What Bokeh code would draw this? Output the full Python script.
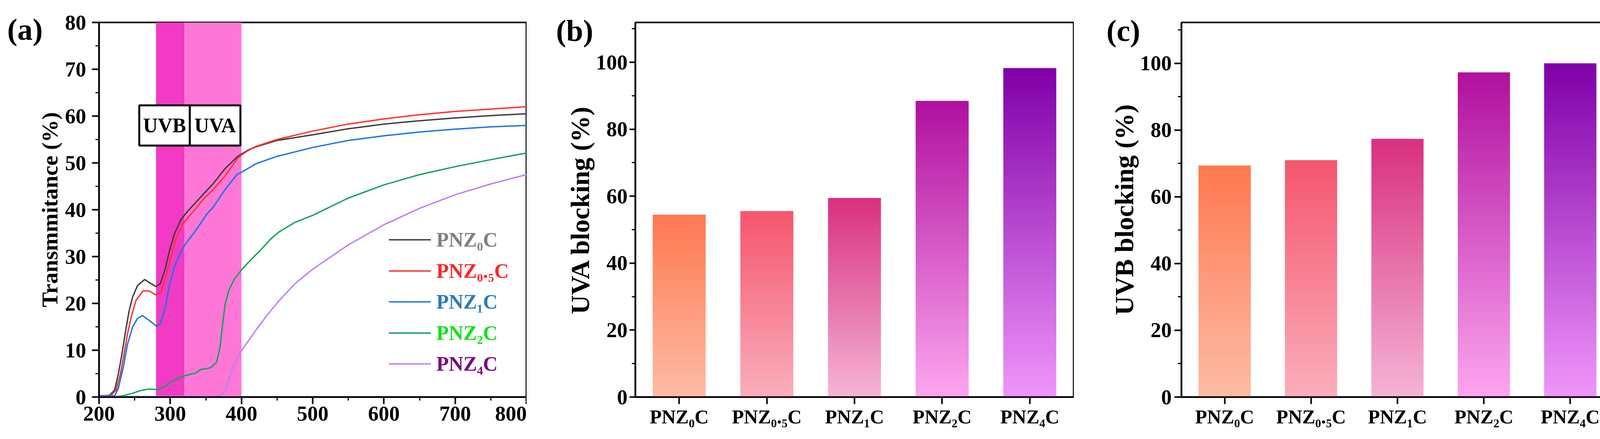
from bokeh.plotting import figure
from bokeh.models import (Range1d, FactorRange, SingleIntervalTicker, Legend,
                          LegendItem, Label, ColumnDataSource)
from bokeh.layouts import row
from bokeh.embed import file_html
from bokeh.resources import INLINE
from bokeh.core.properties import value

FONT = "Liberation Serif"

# ---------------- panel (a): transmittance spectra ----------------
wl_0 = [200, 210, 215, 222, 227, 232, 237, 242, 247, 254, 264, 271, 280, 286, 293, 299, 306, 315,
        325, 335, 345, 360, 377, 394, 400, 410, 420, 450, 500, 550, 600, 650, 700, 750, 800]
t_0 = [0.3, 0.3, 0.4, 1.5, 4.9, 9.0, 13.8, 18.2, 21.3, 23.8, 25.1, 24.4, 23.6, 24.2, 27.4, 31.3, 34.9, 37.9,
       39.8, 41.4, 43.1, 45.5, 48.8, 51.3, 51.9, 52.8, 53.4, 54.8, 56.0, 57.3, 58.3, 59.0, 59.6, 60.1, 60.5]

wl_05 = [200, 210, 217, 224, 230, 235, 240, 246, 252, 262, 271, 280, 287, 294, 301, 308, 318, 335,
         345, 360, 377, 394, 400, 410, 420, 450, 500, 550, 600, 650, 700, 750, 800]
t_05 = [0.3, 0.3, 0.4, 1.5, 4.9, 9.0, 13.5, 17.6, 20.7, 22.7, 22.6, 21.8, 22.5, 26.0, 29.9, 33.8, 37.1, 40.1,
        42.0, 44.3, 47.2, 50.9, 51.7, 52.7, 53.5, 55.0, 56.8, 58.3, 59.4, 60.3, 61.0, 61.5, 62.0]

wl_1 = [200, 215, 222, 227, 234, 240, 247, 254, 261, 271, 281, 286, 293, 299, 306, 315, 321, 335,
        352, 360, 377, 394, 400, 420, 450, 500, 550, 600, 650, 700, 750, 800]
t_1 = [0.3, 0.3, 0.3, 1.8, 6.3, 11.3, 14.9, 16.8, 17.4, 16.3, 15.1, 15.7, 19.0, 24.0, 27.9, 31.0, 32.6, 35.4,
       39.2, 40.5, 44.3, 47.6, 48.0, 49.8, 51.4, 53.3, 54.8, 55.8, 56.6, 57.2, 57.7, 58.0]

wl_2 = [200, 225, 234, 247, 259, 269, 281, 291, 301, 311, 321, 335, 343, 352, 357, 365, 370, 373,
        377, 382, 390, 402, 415, 427, 440, 453, 475, 500, 550, 600, 650, 700, 750, 800]
t_2 = [0.1, 0.1, 0.3, 0.8, 1.4, 1.7, 1.6, 2.1, 3.2, 4.0, 4.6, 5.1, 5.9, 6.1, 6.3, 7.4, 10.7, 14.9,
       19.8, 22.7, 25.2, 27.5, 29.6, 31.4, 33.6, 35.3, 37.3, 38.8, 42.5, 45.3, 47.5, 49.2, 50.7, 52.1]

wl_4 = [200, 300, 365, 370, 377, 385, 392, 400, 419, 435, 453, 475, 500, 550, 600, 650, 700, 750, 800]
t_4 = [0.1, 0.1, 0.1, 0.3, 1.1, 5.2, 7.8, 9.9, 14.0, 17.3, 20.6, 24.2, 27.3, 32.5, 36.8, 40.3, 43.2, 45.5, 47.5]

series_names = ["PNZ₀C", "PNZ₀.₅C", "PNZ₁C", "PNZ₂C", "PNZ₄C"]
line_colors = ["#3c3c3c", "#ff3030", "#1a74e6", "#14a05e", "#c07ef0"]
text_colors = ["#808080", "#ff2626", "#2a7cbc", "#16e016", "#7a0a82"]

uv_band_left = [280, 320]
uv_band_right = [320, 400]
uv_band_colors = ["#f23ac4", "#ff77d6"]
uv_box_labels = ["UVB", "UVA"]
uv_box_left = [256.5, 327.5]
uv_box_right = [327.5, 398.5]
uv_box_bottom = 53.7
uv_box_top = 62.3

# ---------------- panels (b) and (c): blocking bars ----------------
samples = ["PNZ₀C", "PNZ₀.₅C", "PNZ₁C", "PNZ₂C", "PNZ₄C"]
uva_blocking = [54.4, 55.5, 59.4, 88.4, 98.2]
uvb_blocking = [69.3, 70.9, 77.3, 97.2, 99.9]
bar_top_colors = ["#ff7850", "#f5566e", "#d9307f", "#b0109e", "#8000a8"]
bar_bottom_colors = ["#fdbca6", "#faaebb", "#f5b4d6", "#fda6f0", "#f096fa"]

# shared vertical layout (plots in a row get aligned frames)
FRAME_H = 960
TOP_B = 57
BOTTOM_B = 92


def style_axes(p, ylabel_size, y_tick_out, y_standoff, ylabel_standoff):
    for ax in (p.xaxis[0], p.yaxis[0]):
        ax.axis_line_width = 4
        ax.axis_line_color = "black"
        ax.major_tick_line_width = 4
        ax.minor_tick_line_width = 3
        ax.major_tick_in = 0
        ax.minor_tick_in = 0
        ax.minor_tick_out = 9
        ax.major_label_text_font = FONT
        ax.major_label_text_font_style = "bold"
        ax.major_label_text_color = "black"
        ax.axis_label_text_font = FONT
        ax.axis_label_text_font_style = "bold"
        ax.axis_label_text_color = "black"
    p.yaxis[0].major_tick_out = y_tick_out
    p.yaxis[0].major_label_text_font_size = "54px"
    p.yaxis[0].major_label_standoff = y_standoff
    p.yaxis[0].axis_label_text_font_size = ylabel_size
    p.yaxis[0].axis_label_standoff = ylabel_standoff
    p.xaxis[0].major_tick_out = 18
    p.outline_line_color = "black"
    p.outline_line_width = 4
    p.outline_line_alpha = 1.0
    p.xgrid.visible = False
    p.ygrid.visible = False
    p.background_fill_color = "white"
    p.border_fill_color = "white"


def panel_label(p, text, x, y):
    # kept in the left side panel (so it is not clipped to the frame), drawn at a canvas position
    p.add_layout(Label(x=x, y=y, x_units="canvas", y_units="canvas", text=text,
                       text_font=FONT, text_font_style="bold", text_font_size="78px",
                       text_color="black", text_baseline="alphabetic", text_align="left"), "left")


# ---------- figure (a) ----------
pa = figure(frame_width=1094, frame_height=FRAME_H, min_border_left=246, min_border_right=1,
            min_border_top=TOP_B, min_border_bottom=BOTTOM_B,
            x_range=Range1d(200, 800), y_range=Range1d(0, 80),
            output_backend="svg", toolbar_location=None)
pa.quad(left=uv_band_left, right=uv_band_right, bottom=0.25, top=80,
        fill_color=uv_band_colors, line_color=None)

renderers = []
for wl, t, c in zip([wl_0, wl_05, wl_1, wl_2, wl_4], [t_0, t_05, t_1, t_2, t_4], line_colors):
    r = pa.line(wl, t, line_color=c, line_width=3.5)
    renderers.append(r)

pa.quad(left=uv_box_left, right=uv_box_right, bottom=uv_box_bottom, top=uv_box_top,
        fill_color="white", line_color="black", line_width=5)
pa.text(x=[(a + b) / 2 for a, b in zip(uv_box_left, uv_box_right)],
        y=[(uv_box_bottom + uv_box_top) / 2] * 2, text=uv_box_labels,
        text_font=value(FONT), text_font_style="bold", text_font_size="52px",
        text_align="center", text_baseline="middle", text_color="black")

pa.xaxis[0].ticker = SingleIntervalTicker(interval=100, num_minor_ticks=2)
pa.yaxis[0].ticker = SingleIntervalTicker(interval=10, num_minor_ticks=2)
pa.yaxis[0].axis_label = "Transmmitance (%)"
style_axes(pa, "58px", 18, 15, 4)
pa.xaxis[0].major_label_text_font_size = "54px"
pa.xaxis[0].major_label_standoff = 6

legend_rows_y = [373, 293, 214, 134, 55]
for name, r, tc, ly in zip(series_names, renderers, text_colors, legend_rows_y):
    leg = Legend(items=[LegendItem(label=name, renderers=[r])], location=(742, ly),
                 glyph_width=108, glyph_height=60, label_height=60, label_standoff=14,
                 padding=0, margin=0, spacing=0, border_line_color=None,
                 background_fill_alpha=0, label_text_font=FONT, label_text_font_style="bold",
                 label_text_font_size="52px", label_text_color=tc)
    pa.add_layout(leg)
panel_label(pa, "(a)", 18, 75)


# ---------- bar figures (b) and (c) ----------
def lerp_color(c0, c1, f):
    a = [int(c0[i:i + 2], 16) for i in (1, 3, 5)]
    b = [int(c1[i:i + 2], 16) for i in (1, 3, 5)]
    return "#%02x%02x%02x" % tuple(int(round(a[k] + (b[k] - a[k]) * f)) for k in range(3))


def bar_panel(values, ylabel, fw, ytop, bl, br, ytick_out, ystand, ylab_stand, lab_xy, lab):
    p = figure(frame_width=fw, frame_height=FRAME_H, min_border_left=bl, min_border_right=br,
               min_border_top=TOP_B, min_border_bottom=BOTTOM_B,
               x_range=FactorRange(*samples), y_range=Range1d(0, ytop),
               output_backend="svg", toolbar_location=None)
    n = 80
    xs, bots, tops, cols = [], [], [], []
    for s, v, ct, cb in zip(samples, values, bar_top_colors, bar_bottom_colors):
        for k in range(n):
            xs.append(s)
            bots.append(v * k / n)
            tops.append(v * (k + 1) / n)
            cols.append(lerp_color(cb, ct, (k + 0.5) / n))
    src = ColumnDataSource(dict(x=xs, bottom=bots, top=tops, color=cols))
    p.vbar(x="x", bottom="bottom", top="top", width=0.6, source=src,
           fill_color="color", line_color="color", line_width=1)
    p.yaxis[0].ticker = SingleIntervalTicker(interval=20, num_minor_ticks=2)
    p.yaxis[0].axis_label = ylabel
    style_axes(p, "68px", ytick_out, ystand, ylab_stand)
    p.xaxis[0].major_label_text_font_size = "50px"
    p.xaxis[0].major_label_standoff = 4
    p.xaxis[0].major_tick_out = 18
    p.x_range.range_padding = 0
    panel_label(p, lab, lab_xy[0], lab_xy[1])
    return p


# y extent chosen so that 100 % spans the same pixel height as in the reference
pb = bar_panel(uva_blocking, "UVA blocking (%)", 1122, FRAME_H / 8.58, 262, 1, 15, 5, 0, (75, 78), "(b)")
pc = bar_panel(uvb_blocking, "UVB blocking (%)", 1106, FRAME_H / 8.555, 270, 20, 18, 7, 0, (83, 78), "(c)")

layout = row(pa, pb, pc)
open("out.html", "w").write(file_html(layout, INLINE))
